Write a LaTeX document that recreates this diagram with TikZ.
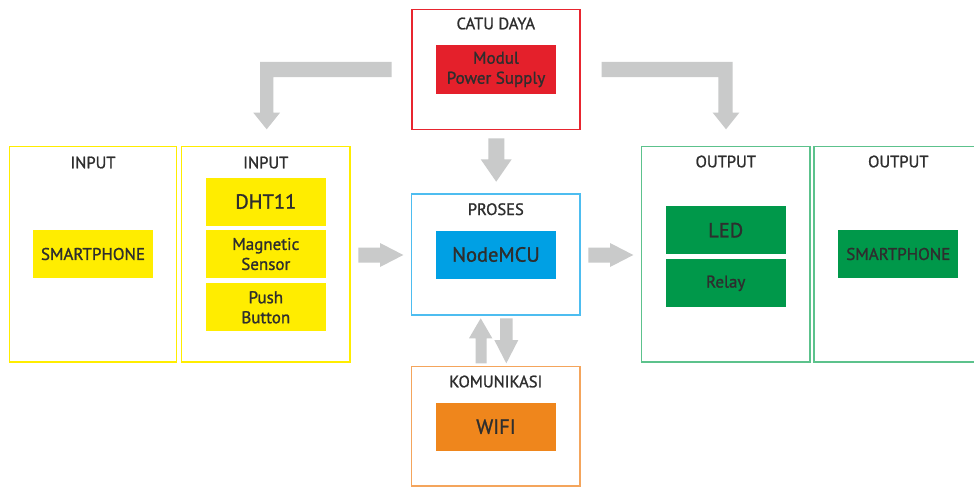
\documentclass[tikz,border=0pt]{standalone}
\usepackage{fontspec}
\setmainfont{PT Sans}
\newfontfamily\medfont{PT Sans}[BoldFont={PT Sans}, BoldFeatures={FakeBold=1.2}]
\definecolor{cred}{HTML}{E4202B}
\definecolor{redline}{HTML}{E8252F}
\definecolor{cyel}{HTML}{FFED00}
\definecolor{cblue}{HTML}{00A0E4}
\definecolor{cbluel}{HTML}{4DBDF0}
\definecolor{corg}{HTML}{EF861C}
\definecolor{corgl}{HTML}{F4A55C}
\definecolor{cgrn}{HTML}{00984A}
\definecolor{cgrnl}{HTML}{5CC28C}
\definecolor{carrow}{HTML}{C9CACA}
\definecolor{ctext}{HTML}{2E2E2E}
\tikzset{
  outer/.style={draw, line width=1.3pt, fill=white, inner sep=0pt},
  inner/.style={inner sep=0pt, minimum width=120pt, minimum height=48pt, align=center, text=ctext, font=\medfont\bfseries\fontsize{17}{20}\selectfont},
  big/.style={font=\medfont\bfseries\fontsize{20.5}{22}\selectfont},
  title/.style={anchor=base, text=ctext, font=\medfont\bfseries\fontsize{16.5}{18}\selectfont, inner sep=0pt},
  blockarrow/.style={fill=carrow, draw=none}
}
\begin{document}
\begin{tikzpicture}[x=1pt,y=-1pt]
\useasboundingbox (0,0) rectangle (974,487);
\fill[white] (0,0) rectangle (974,487);
\clip (0,0) rectangle (974,487);

% CATU DAYA
\node[outer, draw=redline, line width=1.5pt, minimum width=168pt, minimum height=120pt] (catu) at (495.8,69.3) {};
\node[title] (catut) at (495.8,29.3) {CATU DAYA};
\node[inner, fill=cred] (psu) at (496,69.5) {Modul\\Power Supply};

% INPUT 1
\node[outer, draw=cyel, minimum width=167.4pt, minimum height=215.7pt] (in1) at (93,254) {};
\node[title] (in1t) at (93,168.3) {INPUT};
\node[inner, fill=cyel] (sp1) at (93,254) {SMARTPHONE};

% INPUT 2
\node[outer, draw=cyel, minimum width=168.3pt, minimum height=215.7pt] (in2) at (265.8,254) {};
\node[title] (in2t) at (265.8,168.3) {INPUT};
\node[inner, fill=cyel, big] (dht) at (265.8,201.5) {DHT11};
\node[inner, fill=cyel] (mag) at (265.8,254) {Magnetic\\Sensor};
\node[inner, fill=cyel] (push) at (265.8,307.3) {Push\\Button};

% PROSES
\node[outer, draw=cbluel, minimum width=168.3pt, minimum height=121pt] (proses) at (495.8,254.5) {};
\node[title] (prosest) at (495.8,215) {PROSES};
\node[inner, fill=cblue, big] (mcu) at (496,254.5) {NodeMCU};

% KOMUNIKASI
\node[outer, draw=corgl, minimum width=168.3pt, minimum height=119.3pt] (kom) at (495.8,426.3) {};
\node[title] (komt) at (495.8,387.3) {KOMUNIKASI};
\node[inner, fill=corg, big] (wifi) at (496,426.7) {WIFI};

% OUTPUT 1
\node[outer, draw=cgrnl, minimum width=168.3pt, minimum height=215.7pt] (out1) at (725.8,254) {};
\node[title] (out1t) at (725.8,167.3) {OUTPUT};
\node[inner, fill=cgrn, big] (led) at (725.7,230.2) {LED};
\node[inner, fill=cgrn] (relay) at (725.7,283.3) {Relay};

% OUTPUT 2
\node[outer, draw=cgrnl, minimum width=168.3pt, minimum height=215.7pt] (out2) at (898.2,254) {};
\node[title] (out2t) at (898.3,167.3) {OUTPUT};
\node[inner, fill=cgrn] (sp2) at (898.3,254) {SMARTPHONE};

% block arrows
\fill[blockarrow] (391.7,62) -- (260,62) -- (260,112.7) -- (253.3,112.7) -- (266.7,129.3) -- (280,112.7) -- (273.3,112.7) -- (273.3,77) -- (391.7,77) -- cycle;
\fill[blockarrow] (601.7,62) -- (732.7,62) -- (732.7,112.7) -- (739.3,112.7) -- (726,129.3) -- (712.7,112.7) -- (718.3,112.7) -- (718.3,77) -- (601.7,77) -- cycle;
\fill[blockarrow] (488.3,138.3) -- (504.3,138.3) -- (504.3,159.3) -- (511.7,159.3) -- (496.2,181.7) -- (480.7,159.3) -- (488.3,159.3) -- cycle;
\fill[blockarrow] (358.3,247.7) -- (380,247.7) -- (380,243) -- (403.3,255) -- (380,267) -- (380,262.7) -- (358.3,262.7) -- cycle;
\fill[blockarrow] (588.3,247.7) -- (610,247.7) -- (610,243) -- (633.3,255) -- (610,267) -- (610,262.7) -- (588.3,262.7) -- cycle;
\fill[blockarrow] (475.5,363.3) -- (475.5,338.3) -- (469,338.3) -- (480.7,318.3) -- (492.3,338.3) -- (486.5,338.3) -- (486.5,363.3) -- cycle;
\fill[blockarrow] (500,318.3) -- (512.5,318.3) -- (512.5,340) -- (518.3,340) -- (506.3,363.3) -- (494.3,340) -- (500,340) -- cycle;
\end{tikzpicture}
\end{document}
